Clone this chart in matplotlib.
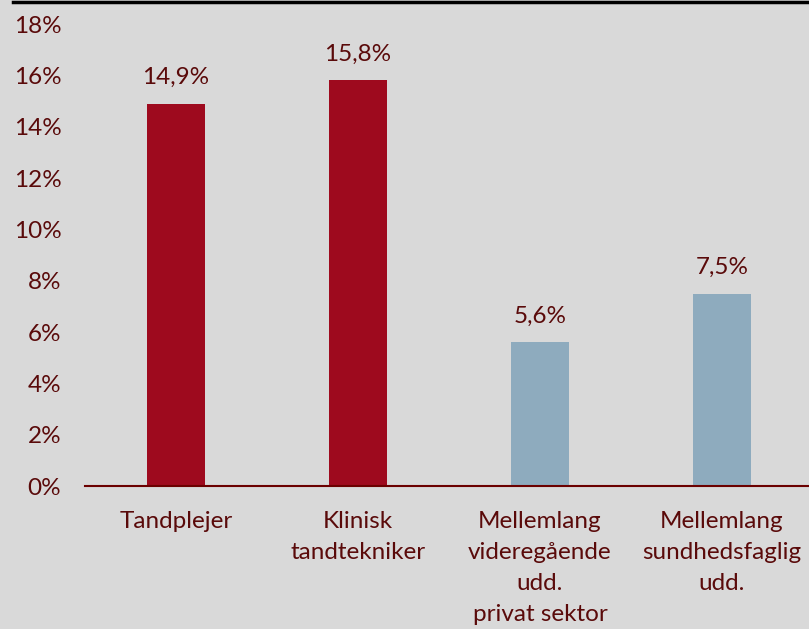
import matplotlib.pyplot as plt
from matplotlib.lines import Line2D

# data
categories = ["Tandplejer", "Klinisk\ntandtekniker",
              "Mellemlang\nvideregående\nudd.\nprivat sektor",
              "Mellemlang\nsundhedsfaglig\nudd."]
values = [14.9, 15.8, 5.6, 7.5]
value_labels = ["14,9%", "15,8%", "5,6%", "7,5%"]
yticks = [0, 2, 4, 6, 8, 10, 12, 14, 16, 18]

red = "#9e0a1e"
blue = "#8eabbe"
txt = "#5a0a0a"
bg = "#d9d9d9"
fs = 17.5

plt.rcParams['font.family'] = ['Lato', 'DejaVu Sans']

fig = plt.figure(figsize=(8.09, 6.29), dpi=100, facecolor=bg)
ax = fig.add_axes([0.105, 0.2273, 0.9, 0.7345])
ax.set_facecolor(bg)

colors = [red, red, blue, blue]
x = range(len(categories))
ax.bar(x, values, width=0.32, color=colors)

for i, v in enumerate(values):
    ax.annotate(value_labels[i], (i, v), xytext=(0, 11), textcoords="offset points",
                ha="center", va="bottom", fontsize=fs, color=txt)

ax.set_xlim(-0.5, 3.5)
ax.set_ylim(0, 18)
ax.set_yticks(yticks)
ax.set_yticklabels([f"{t}%" for t in yticks])
ax.set_xticks(list(x))
ax.set_xticklabels(categories, linespacing=1.58)

for s in ["top", "right", "left"]:
    ax.spines[s].set_visible(False)
ax.spines["bottom"].set_color("#6b0000")
ax.spines["bottom"].set_linewidth(1.5)

ax.tick_params(axis="y", length=0, pad=17, labelsize=fs, labelcolor=txt)
ax.tick_params(axis="x", length=0, pad=18, labelsize=fs, labelcolor=txt)

# black line across the top of the image
fig.add_artist(Line2D([13 / 809, 1], [0.997, 0.997], color="black", lw=2.5,
                      transform=fig.transFigure))

fig.savefig("out.png", dpi=100, facecolor=bg)
